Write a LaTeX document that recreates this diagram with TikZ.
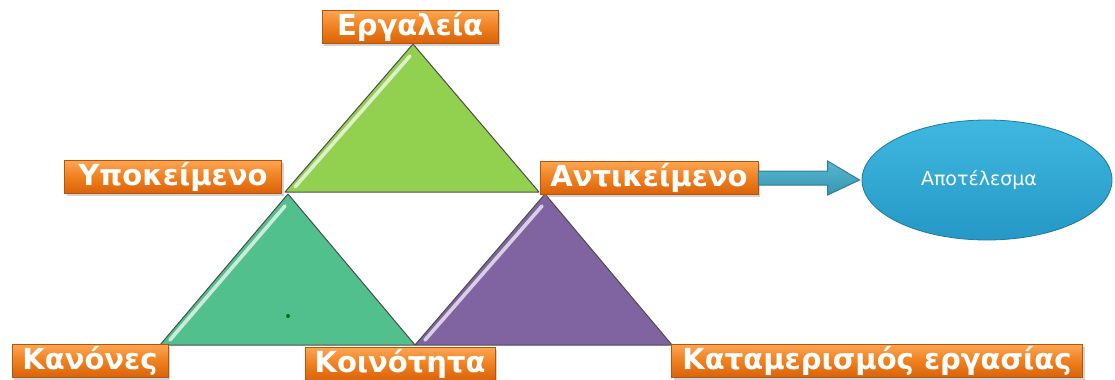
\documentclass[tikz,border=0pt]{standalone}
\usepackage{fontspec}
\setmainfont{DejaVu Sans}
\usetikzlibrary{shapes.geometric,shadows,calc}
\definecolor{orA}{HTML}{FBA552}
\definecolor{orM}{HTML}{F0801E}
\definecolor{orB}{HTML}{D8620A}
\definecolor{grTop}{HTML}{92D050}
\definecolor{grLeft}{HTML}{52C08C}
\definecolor{purp}{HTML}{8064A2}
\definecolor{arrA}{HTML}{58B6CF}
\definecolor{arrB}{HTML}{3796B2}
\definecolor{arrD}{HTML}{2C7F98}
\definecolor{ellA}{HTML}{3FB8E1}
\definecolor{ellB}{HTML}{2598C5}
\begin{document}
\begin{tikzpicture}[x=0.5pt,y=-0.5pt,
 lbl/.style={draw=orB!85!black, line width=0.3pt, top color=orA, bottom color=orB, middle color=orM, text=white,
   font=\bfseries\fontsize{14.5}{16}\selectfont, minimum height=16.5pt, inner sep=0pt,
   drop shadow={shadow xshift=1pt,shadow yshift=-1pt,opacity=0.35}},
 tri/.style={draw=black!70, line width=0.5pt, line join=round},
 hl/.style={white, opacity=0.7, line width=1.8pt, line cap=round},
 arrowbox/.style={draw=arrD, line width=0.5pt, top color=arrA, bottom color=arrB},
 resbox/.style={ellipse, minimum width=125pt, minimum height=60pt, inner sep=0pt,
   top color=ellA, bottom color=ellB, draw=ellB!80!black, line width=0.4pt,
   text=white, font=\fontsize{9.5}{11}\selectfont}]
\useasboundingbox (0,0) rectangle (1115,380);

% triangle corners
\coordinate (tA) at (413,44);
\coordinate (tL) at (285,192);
\coordinate (tR) at (539,192);
\coordinate (lA) at (288,194);
\coordinate (lL) at (160,345);
\coordinate (lR) at (415,345);
\coordinate (pA) at (545,194);
\coordinate (pL) at (415,345);
\coordinate (pR) at (672,345);

% triangles
\filldraw[tri, fill=grTop] (tA) -- (tL) -- (tR) -- cycle;
\draw[hl] ($(tL)+(10,-5)$) -- ($(tA)+(-3,12)$);
\filldraw[tri, fill=grLeft] (lA) -- (lL) -- (lR) -- cycle;
\draw[hl] ($(lL)+(10,-5)$) -- ($(lA)+(-3,12)$);
\filldraw[tri, fill=purp] (pA) -- (pL) -- (pR) -- cycle;
\draw[hl] ($(pL)+(10,-5)$) -- ($(pA)+(-3,12)$);
\fill[green!45!black] (288,316) circle (1pt);

% labels
\node[lbl, minimum width=88pt] (erg) at (410,27) {Εργαλεία};
\node[lbl, minimum width=108.5pt] (ypo) at (173,177) {Υποκείμενο};
\node[lbl, minimum width=109pt] (ant) at (649,178) {Αντικείμενο};
\node[lbl, minimum width=78pt] (kan) at (90,361) {Κανόνες};
\node[lbl, minimum width=95pt] (koi) at (400,364) {Κοινότητα};
\node[lbl, minimum width=205.5pt] (kat) at (877,361) {Καταμερισμός εργασίας};

% result
\node[resbox] (res) at (987,180) {Αποτέλεσμα\hspace*{8pt}};

% block arrow
\path[arrowbox] let \p1=(ant.east), \p2=(res.west) in
  (\x1,\y1+3.5pt) -- (\x2-17pt,\y1+3.5pt) -- (\x2-17pt,\y1+8.5pt) -- (\x2-1pt,\y2)
  -- (\x2-17pt,\y1-8.5pt) -- (\x2-17pt,\y1-3.5pt) -- (\x1,\y1-3.5pt) -- cycle;
\end{tikzpicture}
\end{document}
